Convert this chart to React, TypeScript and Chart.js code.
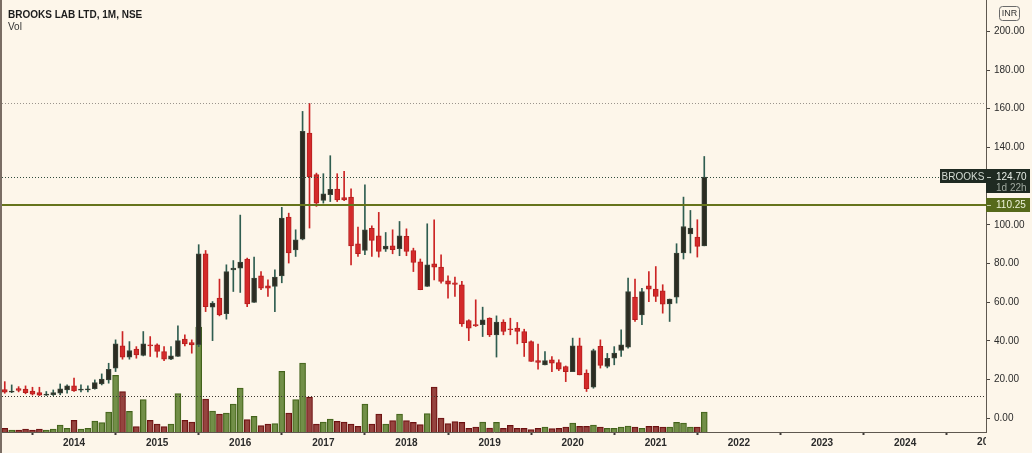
import React, { useEffect, useRef } from "react";
import { Chart, registerables } from "chart.js";

Chart.register(...registerables);

// ---------- data (monthly) ----------
const months = [
  "2013-03", "2013-04", "2013-05", "2013-06", "2013-07", "2013-08", "2013-09", "2013-10", "2013-11", "2013-12",
  "2014-01", "2014-02", "2014-03", "2014-04", "2014-05", "2014-06", "2014-07", "2014-08", "2014-09", "2014-10", "2014-11", "2014-12",
  "2015-01", "2015-02", "2015-03", "2015-04", "2015-05", "2015-06", "2015-07", "2015-08", "2015-09", "2015-10", "2015-11", "2015-12",
  "2016-01", "2016-02", "2016-03", "2016-04", "2016-05", "2016-06", "2016-07", "2016-08", "2016-09", "2016-10", "2016-11", "2016-12",
  "2017-01", "2017-02", "2017-03", "2017-04", "2017-05", "2017-06", "2017-07", "2017-08", "2017-09", "2017-10", "2017-11", "2017-12",
  "2018-01", "2018-02", "2018-03", "2018-04", "2018-05", "2018-06", "2018-07", "2018-08", "2018-09", "2018-10", "2018-11", "2018-12",
  "2019-01", "2019-02", "2019-03", "2019-04", "2019-05", "2019-06", "2019-07", "2019-08", "2019-09", "2019-10", "2019-11", "2019-12",
  "2020-01", "2020-02", "2020-03", "2020-04", "2020-05", "2020-06", "2020-07", "2020-08", "2020-09", "2020-10", "2020-11", "2020-12",
  "2021-01", "2021-02", "2021-03", "2021-04", "2021-05", "2021-06", "2021-07", "2021-08",
];

const openP = [
  14.8, 13.4, 15.3, 15.0, 14.0, 13.3, 11.9, 12.1, 12.9, 14.6,
  16.7, 14.5, 14.6, 15.3, 17.7, 19.8, 25.9, 37.4, 31.6, 35.7, 32.4, 37.9,
  37.9, 34.5, 30.5, 31.9, 40.9, 39.1, 38.0, 85.0, 57.4, 62.1, 54.0, 76.7,
  77.6, 82.3, 59.8, 73.6, 68.4, 68.1, 73.6, 104.0, 87.0, 92.6, 147.4, 125.9,
  112.6, 115.5, 118.5, 114.1, 114.3, 90.2, 86.7, 98.1, 94.3, 87.4, 89.1, 87.7,
  94.0, 86.7, 80.9, 68.1, 79.8, 78.1, 71.0, 70.0, 69.0, 50.5, 48.4, 48.3,
  51.7, 43.1, 49.7, 46.2, 46.6, 44.8, 39.6, 29.8, 27.6, 30.2, 28.8, 26.7,
  24.1, 37.4, 23.3, 16.0, 37.2, 26.7, 31.0, 35.0, 36.7, 62.6, 53.4, 68.4,
  66.7, 65.9, 59.1, 62.6, 85.4, 95.3, 93.6, 89.1,
];

const highP = [
  18.9, 17.2, 16.3, 16.7, 16.0, 16.0, 13.8, 14.6, 17.7, 17.2,
  20.7, 17.2, 16.7, 19.8, 22.9, 28.4, 40.5, 44.8, 39.6, 37.0, 44.8, 42.2,
  38.4, 37.0, 37.0, 47.7, 43.1, 40.5, 89.7, 86.7, 60.3, 71.9, 79.3, 81.5,
  105.0, 82.8, 83.3, 75.8, 71.5, 76.7, 109.0, 106.0, 97.4, 158.6, 162.7, 126.7,
  126.4, 135.7, 126.4, 127.6, 118.6, 98.8, 120.7, 99.5, 106.4, 96.0, 97.4, 101.7,
  97.9, 87.9, 82.3, 100.5, 102.6, 84.5, 73.6, 72.9, 70.7, 50.9, 61.2, 57.4,
  51.9, 52.9, 50.9, 51.7, 49.5, 46.0, 40.0, 38.3, 34.5, 31.9, 30.2, 27.0,
  41.4, 41.4, 25.0, 35.7, 40.5, 33.5, 37.0, 45.7, 72.4, 71.9, 67.2, 75.8,
  78.4, 69.0, 61.6, 90.2, 114.3, 107.4, 102.6, 135.3,
];

const lowP = [
  12.9, 13.2, 13.6, 12.6, 12.0, 11.7, 11.7, 11.7, 12.1, 12.9,
  13.8, 13.6, 13.6, 15.0, 17.2, 18.1, 24.1, 30.5, 30.5, 31.0, 32.2, 31.9,
  31.6, 29.8, 30.2, 31.9, 37.4, 33.6, 37.0, 55.1, 40.1, 52.9, 51.2, 65.5,
  65.0, 57.7, 59.8, 66.5, 62.9, 55.1, 70.0, 80.2, 83.6, 92.2, 98.3, 109.5,
  111.2, 112.0, 112.0, 112.4, 79.3, 83.6, 84.5, 83.6, 83.3, 86.2, 85.0, 84.0,
  84.0, 75.8, 66.4, 68.1, 71.5, 69.8, 62.1, 62.9, 47.4, 40.1, 47.4, 42.2,
  42.2, 31.6, 43.1, 43.1, 38.4, 31.9, 29.3, 25.3, 27.6, 24.1, 24.6, 18.9,
  24.1, 22.4, 13.8, 15.5, 25.9, 26.0, 27.6, 31.9, 36.2, 50.0, 48.3, 60.3,
  60.3, 54.3, 50.0, 59.5, 82.3, 85.4, 83.3, 89.1,
];

const closeP = [
  13.5, 14.0, 14.3, 13.2, 12.4, 11.9, 12.4, 13.3, 15.2, 16.7,
  14.1, 15.0, 15.2, 18.4, 20.2, 25.3, 38.4, 31.6, 35.0, 32.7, 38.4, 37.4,
  34.5, 30.5, 32.2, 40.1, 38.4, 37.9, 85.0, 57.7, 59.5, 53.4, 75.8, 77.6,
  80.7, 59.1, 72.4, 67.2, 67.2, 72.9, 103.5, 85.4, 92.2, 148.3, 124.7, 111.2,
  116.0, 118.3, 112.9, 112.9, 89.1, 85.0, 97.4, 91.9, 86.2, 89.0, 87.1, 94.3,
  86.2, 80.5, 66.4, 79.3, 78.1, 70.7, 69.3, 69.1, 48.8, 46.6, 47.7, 50.9,
  43.1, 49.7, 44.8, 45.7, 44.8, 39.1, 29.3, 28.8, 29.8, 28.5, 25.3, 24.1,
  37.4, 22.4, 15.3, 35.0, 27.3, 31.0, 33.6, 37.9, 65.5, 50.9, 65.5, 66.7,
  62.9, 59.0, 61.6, 85.4, 99.1, 98.3, 88.8, 124.7,
];

// relative volume (bar height units)
const volume = [
  3.7, 2, 2, 3, 2, 3, 2, 3, 7, 3.7,
  11.7, 3, 3.7, 11, 9.3, 20, 56.7, 40.3, 20.7, 5.3, 32.3, 11.7,
  8, 5.3, 8, 38.3, 11.7, 10, 105, 33, 21, 18, 19, 28,
  44, 12.3, 15.7, 6.3, 8, 8.3, 60.7, 19, 32.3, 69, 35, 8,
  10, 13, 10.7, 10, 8, 5.7, 28, 8, 18, 8, 11.3, 18,
  11.3, 9.7, 7.3, 18.3, 45, 14, 8.3, 10.3, 9.7, 3.7, 5, 10,
  4, 9.7, 3.7, 6.7, 3.7, 3.7, 2.3, 3.7, 5, 3.3, 3.7, 5,
  9, 5.7, 5.7, 7, 5, 3.7, 3.7, 5, 6, 5, 3.7, 5.7,
  5.7, 5, 5, 9.7, 9, 5, 5, 20,
];

const yearTicks = [2014, 2015, 2016, 2017, 2018, 2019, 2020, 2021, 2022, 2023, 2024];
const clippedYear = 2025;
const priceTicks = [0, 20, 40, 60, 80, 100, 120, 140, 160, 180, 200];

const TITLE = "BROOKS LAB LTD, 1M, NSE";
const SUBTITLE = "Vol";
const SYMBOL = "BROOKS";
const CURRENCY = "INR";
const COUNTDOWN = "1d 22h";
const lastPrice = 124.7;
const levelLine = 110.25;
const highLine = 162.7;
const lowLine = 11.5;

// ---------- styles ----------
const BG = "#fdf6ea";
const FONT = '"Liberation Sans", Arial, sans-serif';
const AXIS = "#5f5850";
const TEXT = "#2b2b2b";
const UP_BODY = "#2c2c22";
const UP_BORDER = "#3a463b";
const UP_WICK = "#2f5d50";
const DN_BODY = "#d42a2a";
const DN_BORDER = "#b51f1f";
const DN_WICK = "#cc2424";
const VOL_UP = "rgba(102,134,58,0.92)";
const VOL_UP_B = "#43621b";
const VOL_DN = "rgba(140,52,48,0.92)";
const VOL_DN_B = "#6c1010";

const X_MIN = -10.4;
const X_MAX = 131.68;
const Y_MIN = -7.14;
const Y_MAX = 216.2;

const monthIndex = (s: string) => {
  const [y, m] = s.split("-").map(Number);
  return (y - 2014) * 12 + (m - 1);
};
const xs = months.map(monthIndex);
const isUp = (i: number) => closeP[i] >= openP[i];

const noPad = (s: any) => {
  s.paddingTop = 0;
  s.paddingBottom = 0;
  s.paddingLeft = 0;
  s.paddingRight = 0;
};

const overlay = {
  id: "overlay",
  afterDatasetsDraw(chart: any) {
    const { ctx, chartArea: a, scales } = chart;
    const y = scales.y;
    ctx.save();
    ctx.beginPath();
    ctx.rect(a.left, a.top, a.right - a.left, a.bottom - a.top);
    ctx.clip();
    const hl = (v: number, color: string, dash: number[], w: number) => {
      const py = Math.round(y.getPixelForValue(v)) + (w % 2 ? 0.5 : 0);
      ctx.strokeStyle = color;
      ctx.lineWidth = w;
      ctx.setLineDash(dash);
      ctx.beginPath();
      ctx.moveTo(a.left, py);
      ctx.lineTo(a.right, py);
      ctx.stroke();
    };
    hl(highLine, "#9a948c", [1, 2], 1);
    hl(lowLine, "#3a3630", [1, 2], 1);
    hl(lastPrice, "#2f4b3c", [1, 2], 1);
    hl(levelLine, "#66741c", [], 2);
    ctx.restore();
  },
  afterDraw(chart: any) {
    const { ctx, chartArea: a, scales } = chart;
    const y = scales.y;
    const x = scales.x;
    ctx.save();
    ctx.setLineDash([]);
    // title
    ctx.textAlign = "left";
    ctx.textBaseline = "alphabetic";
    ctx.fillStyle = "#1c1c1c";
    ctx.font = `bold 10px ${FONT}`;
    ctx.fillText(TITLE, 6, 17.5);
    ctx.font = `10px ${FONT}`;
    ctx.fillStyle = "#333";
    ctx.fillText(SUBTITLE, 6, 30);

    // INR badge
    const bx = a.right + 13, by = 6, bw = 20, bh = 14;
    ctx.strokeStyle = "#6a6a6a";
    ctx.lineWidth = 1;
    ctx.beginPath();
    (ctx as any).roundRect(bx + 0.5, by + 0.5, bw, bh, 3);
    ctx.stroke();
    ctx.fillStyle = "#333";
    ctx.font = `9px ${FONT}`;
    ctx.textAlign = "center";
    ctx.textBaseline = "middle";
    ctx.fillText(CURRENCY, bx + bw / 2 + 0.5, by + bh / 2 + 1);

    // last price label
    const py = y.getPixelForValue(lastPrice);
    ctx.fillStyle = "#1f2a22";
    ctx.fillRect(a.right - 46, Math.round(py - 7.5), 46, 14);
    ctx.fillRect(a.right, Math.round(py - 7.5), 44, 24);
    ctx.fillStyle = "#d3dbd3";
    ctx.font = `10px ${FONT}`;
    ctx.textAlign = "center";
    ctx.fillText(SYMBOL, a.right - 23, py);
    ctx.strokeStyle = "#b8c0b8";
    ctx.beginPath();
    ctx.moveTo(a.right + 1, Math.round(py) + 0.5);
    ctx.lineTo(a.right + 5, Math.round(py) + 0.5);
    ctx.stroke();
    ctx.textAlign = "left";
    ctx.fillStyle = "#e6ece6";
    ctx.fillText(lastPrice.toFixed(2), a.right + 10, py);
    ctx.fillStyle = "#9fa89f";
    ctx.fillText(COUNTDOWN, a.right + 10, py + 11);

    // level label
    const ly = y.getPixelForValue(levelLine);
    ctx.fillStyle = "#56691a";
    ctx.fillRect(a.right, Math.round(ly - 7), 44, 14);
    ctx.strokeStyle = "#c8d2a8";
    ctx.beginPath();
    ctx.moveTo(a.right + 1, Math.round(ly) + 0.5);
    ctx.lineTo(a.right + 5, Math.round(ly) + 0.5);
    ctx.stroke();
    ctx.fillStyle = "#eef3da";
    ctx.fillText(levelLine.toFixed(2), a.right + 10, ly);

    // clipped last year label at the right edge
    ctx.beginPath();
    ctx.rect(0, a.bottom + 1, a.right, 30);
    ctx.clip();
    const cx = x.getPixelForValue((clippedYear - 2014) * 12);
    ctx.fillStyle = TEXT;
    ctx.font = `bold 10px ${FONT}`;
    ctx.textAlign = "center";
    ctx.textBaseline = "top";
    ctx.fillText(String(clippedYear), cx, a.bottom + 5);
    ctx.restore();
  },
};

export default function App() {
  const ref = useRef<HTMLCanvasElement>(null);
  useEffect(() => {
    document.body.style.margin = "0";
    document.body.style.background = BG;
    const canvas = ref.current as HTMLCanvasElement;
    const chart = new Chart(canvas, {
      type: "bar",
      data: {
        datasets: [
          {
            label: "body",
            data: xs.map((x, i) => ({ x, y: [openP[i], closeP[i]] })) as any,
            yAxisID: "y",
            barThickness: 5,
            minBarLength: 1,
            grouped: false,
            backgroundColor: (c: any) => (isUp(c.dataIndex) ? UP_BODY : DN_BODY),
            borderColor: (c: any) => (isUp(c.dataIndex) ? UP_BORDER : DN_BORDER),
            borderWidth: 1,
            borderSkipped: false,
          } as any,
          {
            label: "wick",
            data: xs.map((x, i) => ({ x, y: [lowP[i], highP[i]] })) as any,
            yAxisID: "y",
            barThickness: 1,
            grouped: false,
            backgroundColor: (c: any) => (isUp(c.dataIndex) ? UP_WICK : DN_WICK),
            borderWidth: 0,
          } as any,
          {
            label: "volume",
            data: xs.map((x, i) => ({ x, y: volume[i] })) as any,
            yAxisID: "yv",
            barThickness: 6,
            grouped: false,
            backgroundColor: (c: any) => (isUp(c.dataIndex) ? VOL_UP : VOL_DN),
            borderColor: (c: any) => (isUp(c.dataIndex) ? VOL_UP_B : VOL_DN_B),
            borderWidth: 1,
          } as any,
        ],
      },
      options: {
        animation: false,
        responsive: false,
        events: [],
        layout: { padding: 0 },
        plugins: {
          legend: { display: false },
          tooltip: { enabled: false },
        },
        scales: {
          x: {
            type: "linear",
            min: X_MIN,
            max: X_MAX,
            offset: false,
            position: "bottom",
            afterBuildTicks: (s: any) => {
              s.ticks = yearTicks.map((yr) => ({ value: (yr - 2014) * 12 }));
            },
            afterFit: (s: any) => {
              s.height = 21;
              noPad(s);
            },
            grid: {
              drawOnChartArea: false,
              drawTicks: true,
              tickLength: 3,
              tickWidth: 2,
              tickColor: "#3e3a36",
            },
            border: { display: true, color: AXIS, width: 1 },
            ticks: {
              color: TEXT,
              font: { family: FONT, size: 10, weight: "bold" },
              padding: 2,
              maxRotation: 0,
              autoSkip: false,
              callback: (v: any) => String(2014 + Math.round(Number(v) / 12)),
            },
          },
          y: {
            type: "linear",
            position: "right",
            min: Y_MIN,
            max: Y_MAX,
            afterBuildTicks: (s: any) => {
              s.ticks = priceTicks.map((v) => ({ value: v }));
            },
            afterFit: (s: any) => {
              s.width = 46;
              noPad(s);
            },
            grid: {
              drawOnChartArea: false,
              drawTicks: true,
              tickLength: 4,
              tickColor: "#4a4540",
            },
            border: { display: true, color: AXIS, width: 1 },
            ticks: {
              color: TEXT,
              font: { family: FONT, size: 10 },
              padding: 4,
              autoSkip: false,
              callback: (v: any) => Number(v).toFixed(2),
            },
          },
          yv: {
            type: "linear",
            display: false,
            min: 0,
            max: 432,
          },
        },
      } as any,
      plugins: [overlay],
    });
    return () => chart.destroy();
  }, []);

  return (
    <div style={{ display: "flex", width: 1032, height: 453, background: BG }}>
      <div style={{ width: 2, height: 453, background: "#7a6d64" }} />
      <canvas ref={ref} width={1030} height={453} style={{ display: "block", width: 1030, height: 453 }} />
    </div>
  );
}
